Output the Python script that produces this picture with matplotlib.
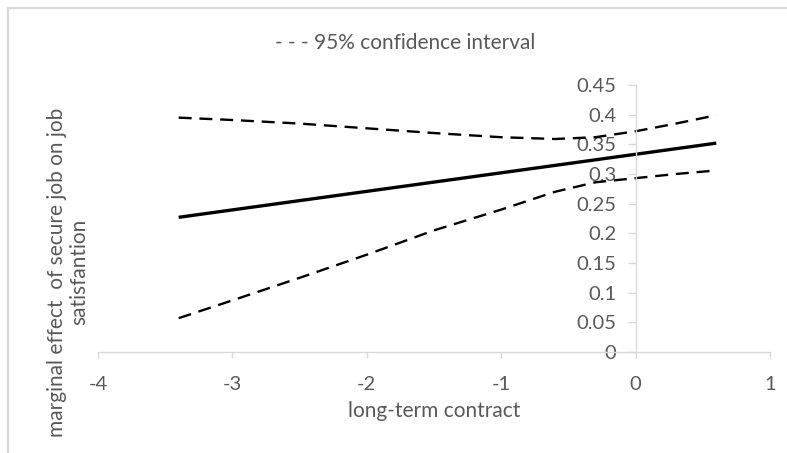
import matplotlib.pyplot as plt
from matplotlib.patches import Rectangle

# values
x_effect = [-3.4, 0.6]
effect = [0.227, 0.352]

x_ci = [-3.4, -3.0, -2.5, -2.0, -1.5, -1.0, -0.6, -0.3, 0.0, 0.3, 0.6]
ci_upper = [0.395, 0.391, 0.385, 0.377, 0.369, 0.362, 0.359, 0.362, 0.372, 0.385, 0.399]
ci_lower = [0.057, 0.087, 0.125, 0.164, 0.205, 0.240, 0.270, 0.286, 0.293, 0.300, 0.306]

x_ticks = [-4, -3, -2, -1, 0, 1]
y_ticks = [0, 0.05, 0.1, 0.15, 0.2, 0.25, 0.3, 0.35, 0.4, 0.45]
y_labels = ["0", "0.05", "0.1", "0.15", "0.2", "0.25", "0.3", "0.35", "0.4", "0.45"]

plt.rcParams['font.family'] = ['Lato', 'DejaVu Sans']
grey = "#595959"
axis_grey = "#d9d9d9"

W, H = 787, 453
fig = plt.figure(figsize=(W / 100, H / 100), dpi=100)
ax = fig.add_axes([98 / W, 1 - 352 / H, (770 - 98) / W, (352 - 85) / H])

ax.plot(x_effect, effect, color="black", lw=2.4, solid_capstyle="butt")
ax.plot(x_ci, ci_upper, color="black", lw=1.7, dashes=(5.5, 3.3))
ax.plot(x_ci, ci_lower, color="black", lw=1.7, dashes=(5.5, 3.3))

ax.set_xlim(-4, 1)
ax.set_ylim(0, 0.45)
ax.set_xticks(x_ticks)
ax.set_xticklabels([str(t) for t in x_ticks])
ax.set_yticks(y_ticks)
ax.set_yticklabels(y_labels)

ax.spines['top'].set_visible(False)
ax.spines['right'].set_visible(False)
ax.spines['left'].set_position(('data', 0))
for s in ('left', 'bottom'):
    ax.spines[s].set_color(axis_grey)
    ax.spines[s].set_linewidth(1.0)

ax.tick_params(axis='y', direction='out', length=5.8, width=1.0, color=axis_grey,
               pad=8, labelsize=14.5, labelcolor=grey)
ax.tick_params(axis='x', direction='out', length=4, width=1.0, color=axis_grey,
               pad=13, labelsize=14.5, labelcolor=grey)

ax.set_xlabel("long-term contract", fontsize=15, color=grey, labelpad=6)

fig.text(68 / W, 1 - 272 / H, "marginal effect  of secure job on job\nsatisfantion",
         rotation=90, ha="center", va="center", multialignment="center",
         fontsize=15, color=grey, linespacing=1.15)

fig.text(405 / W, 1 - 43 / H, "- - - 95% confidence interval", ha="center", va="center",
         fontsize=15, color=grey)

# chart area border (cropped at right and bottom in the reference)
fig.add_artist(Rectangle((8 / W, -0.1), 1.2, 1 - 8 / H + 0.1, transform=fig.transFigure,
                         fill=False, edgecolor=axis_grey, lw=1.6))

fig.savefig("out.png", dpi=100)
